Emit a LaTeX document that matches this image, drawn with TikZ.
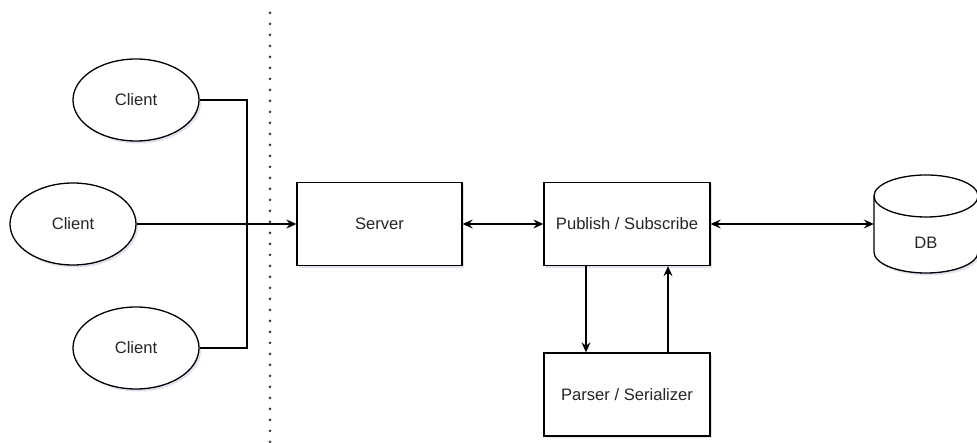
\documentclass[tikz,border=0pt]{standalone}
\usepackage{fontspec}
\setmainfont{Liberation Sans}
\usetikzlibrary{arrows.meta,shapes.geometric,shadows}
\begin{document}
\begin{tikzpicture}[x=1pt,y=1pt,
  every node/.style={font=\fontsize{16.6}{19}\selectfont, text=black!85},
  base/.style={draw=black, line width=1.3pt, fill=white,
    drop shadow={opacity=0.18, shadow xshift=2pt, shadow yshift=-2.5pt, fill=blue!30!gray}},
  client/.style={base, ellipse, minimum width=126pt, minimum height=82pt, inner sep=0pt},
  box/.style={base, rectangle, minimum width=165pt, minimum height=83pt, inner sep=0pt},
  link/.style={line width=1.3pt, draw=black},
  tip/.style={-{Stealth[length=10pt,width=9pt,inset=3.5pt]}},
  tips/.style={{Stealth[length=10pt,width=9pt,inset=3.5pt]}-{Stealth[length=10pt,width=9pt,inset=3.5pt]}},
  sep/.style={line width=3pt, line cap=round, dash pattern=on 0pt off 11pt, draw=black!75},
  ]
\useasboundingbox (0,0) rectangle (977,443);

% trust boundary between the clients and the backend
\coordinate (sepTop) at (270,430);
\coordinate (sepBot) at (270,0);
\draw[sep] (sepTop) -- (sepBot);

% clients
\node[client] (c1) at (136,343) {Client};
\node[client] (c2) at (73,219) {Client};
\node[client] (c3) at (136,95) {Client};

% backend boxes
\node[box] (server) at (379.5,219) {Server};
\node[box, minimum width=166pt] (pubsub) at (627,219) {Publish / Subscribe};
\node[box, minimum width=166pt] (parser) at (627,48.5) {Parser / Serializer};

% database cylinder
\node[minimum width=104pt, minimum height=98pt, inner sep=0pt] (db) at (926,219) {};
\path[base] (874,247) -- (874,191)
  arc[start angle=180, end angle=360, x radius=52pt, y radius=21pt]
  -- (978,247)
  arc[start angle=0, end angle=180, x radius=52pt, y radius=21pt] -- cycle;
\draw[link] (874,247) arc[start angle=180, end angle=360, x radius=52pt, y radius=21pt];
\node at (926,200) {DB};

% connectors
\coordinate (jx) at (247,0);
\coordinate (dx) at (586,0);
\coordinate (ux) at (668,0);
\draw[link] (c1.east) -- (c1.east -| jx) -- (c3.east -| jx) -- (c3.east);
\draw[link, tip] (c2.east) -- (server.west);
\draw[link, tips] (server.east) -- (pubsub.west);
\draw[link, tips] (pubsub.east) -- (db.west);
\draw[link, tip] (pubsub.south -| dx) -- (parser.north -| dx);
\draw[link, tip] (parser.north -| ux) -- (pubsub.south -| ux);
\end{tikzpicture}
\end{document}
